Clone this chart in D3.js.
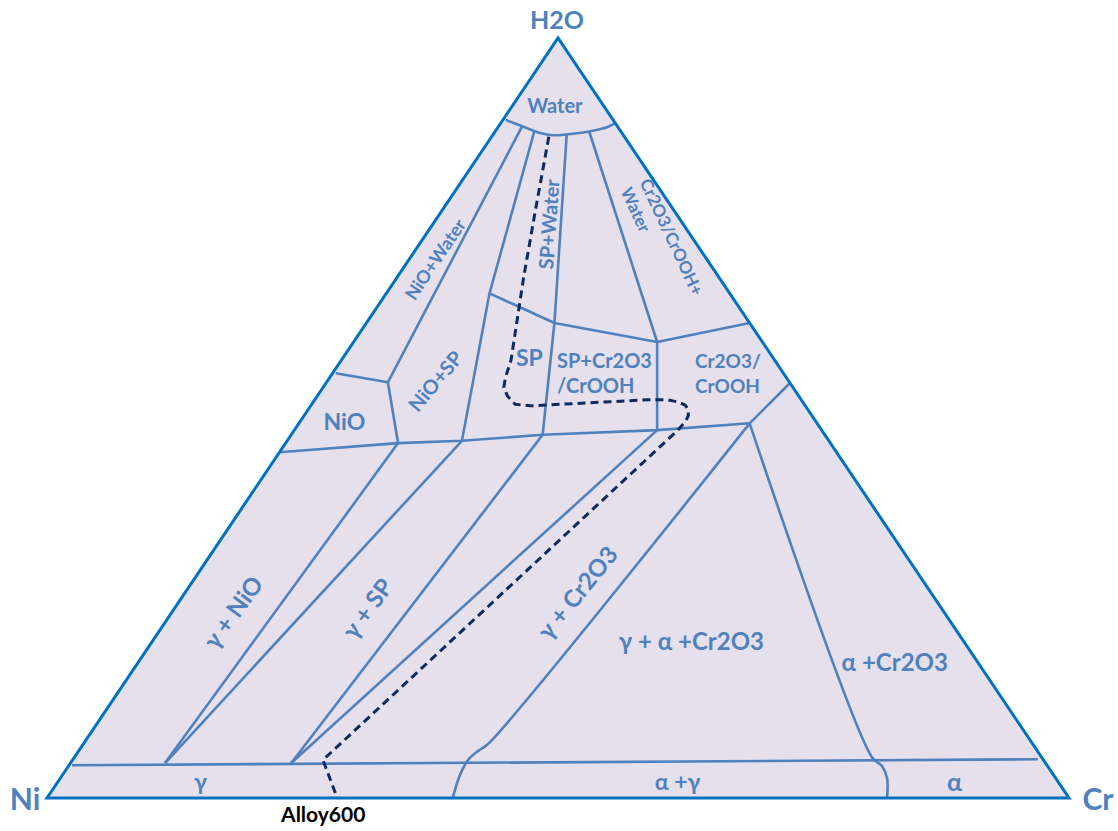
<!DOCTYPE html>
<html>
<head>
<meta charset="utf-8">
<script src="https://cdn.jsdelivr.net/npm/d3@7"></script>
<style>
  body { margin: 0; background: #fff; }
  text { font-family: Lato, "Noto Sans", sans-serif; font-weight: bold; }
</style>
</head>
<body>
<svg id="chart" width="1118" height="831"></svg>
<script>
// every point is [Cr %, H2O %]; Ni is what is left
var corners = [[0, 0], [100, 0], [0, 100]];
var cornerNames = ["Ni", "Cr", "H2O"];

// straight boundaries of the upper (oxide) part
var upperLines = [
    [[2.3, 88.4], [6.0, 54.7]],
    [[3.8, 87.8], [10.1, 66.4]],
    [[7.2, 87.3], [18.4, 62.5]],
    [[9.2, 87.7], [29.7, 60.0]],
    [[10.1, 66.4], [18.4, 62.5], [29.7, 60.0], [37.5, 62.5]],
    [[0.3, 55.9], [6.0, 54.7]],
    [[6.0, 54.7], [11.0, 46.7]],
    [[10.1, 66.4], [17.1, 47.0]],
    [[18.4, 62.5], [24.6, 47.8]],
    [[29.7, 60.0], [35.5, 48.4]],
    [[0, 45.5], [11.0, 46.7], [17.1, 47.0], [24.6, 47.8], [35.5, 48.4], [44.1, 49.3]],
    [[44.1, 49.3], [45.4, 54.6]]
];

// straight boundaries of the lower (metal) part
var lowerLines = [
    [[11.0, 46.7], [9.25, 4.6]],
    [[17.1, 47.0], [9.25, 4.6]],
    [[24.6, 47.8], [21.6, 4.6]],
    [[35.5, 48.4], [21.6, 4.6]],
    [[0.3, 4.3], [94.4, 5.1]]
];

// curved boundaries
var waterArc = [[0.3, 89.2], [2.3, 88.4], [4.5, 87.5], [5.9, 87.2], [7.8, 87.4], [9.5, 87.8], [10.7, 88.3], [11.2, 88.8]];
var gammaCr2O3 = [[44.1, 49.3], [39.6, 7.1], [39.1, 6.2], [38.7, 5.0], [38.9, 3.0], [39.7, 0]];
var alphaCr2O3 = [[44.1, 49.3], [78.0, 5.4], [79.6, 4.2], [80.9, 2.6], [82.2, 0]];

// Alloy 600 path
var alloyPath = [[5.6, 87.0], [9.1, 77.4], [12.5, 68.2], [14.4, 63.3], [16.6, 57.6], [17.2, 55.3], [17.7, 54.0],
    [18.6, 52.9], [19.9, 51.8], [21.5, 51.6], [32.6, 52.4], [34.5, 52.4], [35.7, 52.1], [36.6, 51.7], [37.2, 51.1],
    [37.6, 50.3], [37.7, 49.6], [37.5, 48.3], [24.5, 5.0], [28.4, 0]];

var labels = [
    {lines: ["Water"], at: [4.1, 91.2], angle: 0, size: 20},
    {lines: ["NiO+Water"], at: [2.5, 70.9], angle: -56, size: 18},
    {lines: ["SP+Water"], at: [11.3, 75.5], angle: -86, size: 20},
    {lines: ["NiO+SP"], at: [10.5, 54.9], angle: -50, size: 20},
    {lines: ["NiO"], at: [4.3, 49.6], angle: 0, size: 23},
    {lines: ["SP"], at: [18.2, 58.0], angle: 0, size: 23},
    {lines: ["γ + NiO"], at: [5.9, 24.5], angle: -54, size: 24},
    {lines: ["γ + SP"], at: [18.8, 25.0], angle: -54, size: 24},
    {lines: ["γ + Cr2O3"], at: [38.3, 27.1], angle: -51, size: 24},
    {lines: ["γ + α +Cr2O3"], at: [52.7, 20.7], angle: 0, size: 24},
    {lines: ["α +Cr2O3"], at: [74.0, 17.9], angle: 0, size: 24},
    {lines: ["γ"], at: [13.9, 2.2], angle: 0, size: 23},
    {lines: ["α +γ"], at: [60.6, 2.2], angle: 0, size: 23},
    {lines: ["α"], at: [87.7, 2.2], angle: 0, size: 25}
];
// left aligned two-line labels, anchored at the first baseline
var blockLabels = [
    {lines: ["SP+Cr2O3", "/CrOOH"], at: [21.6, 56.6], angle: 0, size: 20},
    {lines: ["Cr2O3/", "CrOOH"], at: [35.1, 56.6], angle: 0, size: 19},
    {lines: ["Cr2O3/CrOOH+", "Water"], at: [24.2, 73.8], angle: 65, size: 17}
];

var lineBlue = "#4f81bd", edgeBlue = "#0070c0", fill = "#e6e0ec";

var svg = d3.select("#chart");

var xScale = d3.scaleLinear().domain([0, 100]).range([47, 1069]);
var yScale = d3.scaleLinear().domain([0, 100]).range([798, 38]);
function proj(p) { return [xScale(p[0] + p[1] / 2), yScale(p[1])]; }

var straight = d3.line().x(function(d) { return proj(d)[0]; }).y(function(d) { return proj(d)[1]; });
var curved = d3.line().curve(d3.curveCatmullRom.alpha(0.5))
    .x(function(d) { return proj(d)[0]; }).y(function(d) { return proj(d)[1]; });

svg.append("path")
    .attr("d", straight(corners) + "Z")
    .attr("fill", fill);

svg.selectAll("path.straight")
    .data(upperLines.concat(lowerLines))
    .enter().append("path")
    .attr("class", "straight")
    .attr("d", straight)
    .attr("fill", "none")
    .attr("stroke", lineBlue)
    .attr("stroke-width", 2.6)
    .attr("stroke-linejoin", "round");

svg.selectAll("path.curved")
    .data([waterArc, gammaCr2O3, alphaCr2O3])
    .enter().append("path")
    .attr("class", "curved")
    .attr("d", curved)
    .attr("fill", "none")
    .attr("stroke", lineBlue)
    .attr("stroke-width", 2.6);

svg.append("path")
    .attr("d", straight(alloyPath))
    .attr("fill", "none")
    .attr("stroke", "#0f2a5c")
    .attr("stroke-width", 3)
    .attr("stroke-linejoin", "round")
    .attr("stroke-dasharray", "8,5");

svg.append("path")
    .attr("d", straight(corners) + "Z")
    .attr("fill", "none")
    .attr("stroke", edgeBlue)
    .attr("stroke-width", 3)
    .attr("stroke-linejoin", "miter");

// region labels
labels.forEach(function(l) {
    var p = proj(l.at);
    svg.append("text")
        .attr("transform", "translate(" + p[0] + "," + p[1] + ") rotate(" + l.angle + ")")
        .attr("text-anchor", "middle")
        .attr("dominant-baseline", "central")
        .attr("fill", lineBlue)
        .attr("font-size", l.size)
        .text(l.lines[0]);
});

blockLabels.forEach(function(l) {
    var p = proj(l.at);
    var g = svg.append("g")
        .attr("transform", "translate(" + p[0] + "," + p[1] + ") rotate(" + l.angle + ")");
    var first = g.append("text")
        .attr("fill", lineBlue)
        .attr("font-size", l.size)
        .text(l.lines[0]);
    var x0 = 0;
    if (l.angle !== 0) {
        // rotated one is placed by the middle of its first line
        x0 = -first.node().getComputedTextLength() / 2;
        first.attr("x", x0).attr("dy", "0.35em");
    }
    g.append("text")
        .attr("x", x0)
        .attr("y", l.angle !== 0 ? 21 : 25)
        .attr("dy", l.angle !== 0 ? "0.35em" : 0)
        .attr("fill", lineBlue)
        .attr("font-size", l.size)
        .text(l.lines[1]);
});

// corner names
var cornerOffsets = [[-22, 0], [29, 0], [-1, -19]];
svg.selectAll("text.corner")
    .data(corners)
    .enter().append("text")
    .attr("class", "corner")
    .attr("x", function(d, i) { return proj(d)[0] + cornerOffsets[i][0]; })
    .attr("y", function(d, i) { return proj(d)[1] + cornerOffsets[i][1]; })
    .attr("text-anchor", "middle")
    .attr("dominant-baseline", "central")
    .attr("fill", lineBlue)
    .attr("font-size", function(d, i) { return i === 2 ? 25 : 30; })
    .text(function(d, i) { return cornerNames[i]; });

var alloyEnd = proj(alloyPath[alloyPath.length - 1]);
svg.append("text")
    .attr("x", alloyEnd[0] - 14)
    .attr("y", alloyEnd[1] + 24)
    .attr("text-anchor", "middle")
    .attr("fill", "#000")
    .attr("font-size", 21)
    .text("Alloy600");
</script>
</body>
</html>
